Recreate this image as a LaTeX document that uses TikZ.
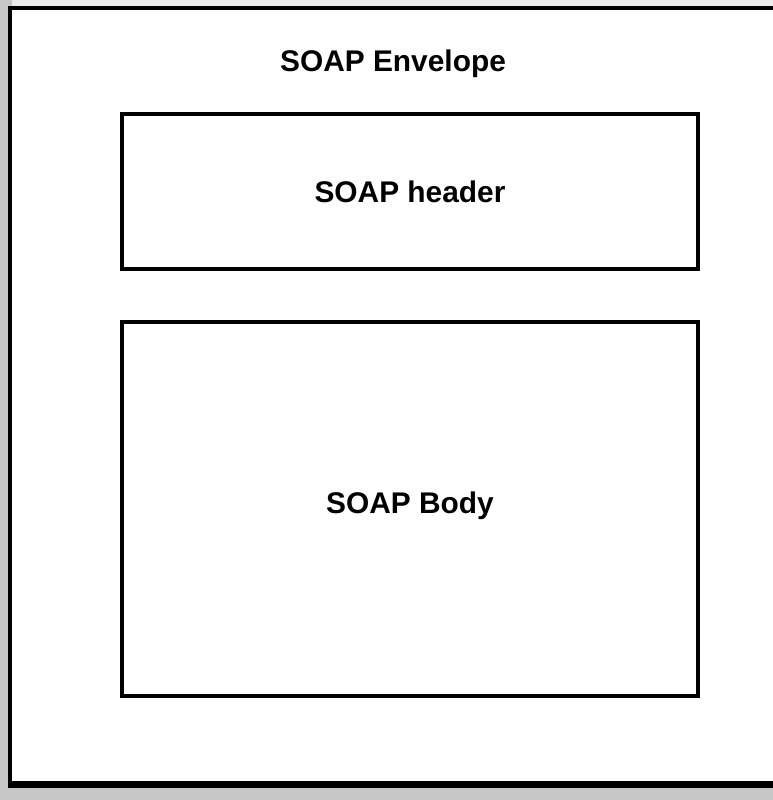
\documentclass[tikz,border=0pt]{standalone}
\usepackage{fontspec}
\setmainfont{Liberation Sans}
\usetikzlibrary{positioning}

\begin{document}
\begin{tikzpicture}[
    x=0.03cm, y=-0.03cm,
    part/.style={rectangle, draw, line width=2.6pt, fill=white, inner sep=0pt,
                 minimum width=17.28cm, font=\fontsize{25.5}{30}\selectfont\bfseries},
    title/.style={font=\fontsize{25.5}{30}\selectfont\bfseries, inner sep=0pt}
]
\useasboundingbox (0,0) rectangle (773,800);
\clip (0,0) rectangle (773,800);
% scanned shadow round the envelope
\fill[gray!45] (0,0) rectangle (773,800);
\fill[gray!15] (12,0) rectangle (773,6);

\node[rectangle, draw, line width=3.6pt, fill=white, inner sep=0pt,
      minimum width=23.4cm, minimum height=23.25cm] (envelope) at (400,395.5) {};
\draw[line width=2.4pt] ([yshift=-1pt]envelope.south west) -- ([yshift=-1pt]envelope.south east);

\node[title] (envtitle) at (393,64) {SOAP Envelope};
\node[part, minimum height=4.65cm] (header) at (410,191.5) {SOAP header};
\node[part, minimum height=11.22cm, text depth=10pt] (body) at (410,509) {SOAP Body};
\end{tikzpicture}
\end{document}
